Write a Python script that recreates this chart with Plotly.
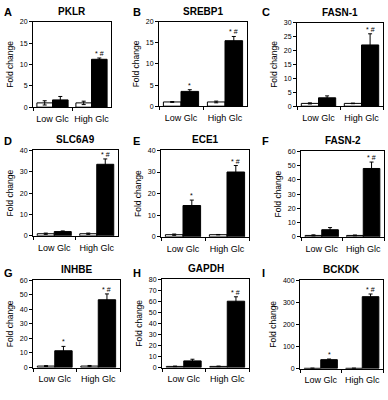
import plotly.graph_objects as go

# ---------------- data ----------------
genes = ["PKLR", "SREBP1", "FASN-1", "SLC6A9", "ECE1", "FASN-2", "INHBE", "GAPDH", "BCKDK"]
panel_letters = ["A", "B", "C", "D", "E", "F", "G", "H", "I"]
groups = ["Low Glc", "High Glc"]

white_vals = [[1, 1], [1, 1], [1, 1], [1, 1], [1, 1], [1, 1], [1, 1], [1, 1], [1, 1]]
white_err = [[0.5, 0.4], [0.1, 0.2], [0.2, 0.1], [0.3, 0.3], [0.3, 0.1], [0.4, 0.3], [0.3, 0.4], [0.3, 0.3], [1, 1]]
black_vals = [[1.7, 11.2], [3.5, 15.5], [3.0, 22.0], [2.0, 33.5], [14.5, 30.0], [5.0, 48.0], [11.5, 46.5], [6.0, 60.0], [40, 325]]
black_err = [[0.8, 0.3], [0.4, 1.0], [0.7, 4.0], [0.3, 2.5], [2.5, 3.0], [1.5, 4.5], [3.0, 4.0], [1.5, 4.0], [3, 12]]
marks = [["", "* #"], ["*", "* #"], ["", "* #"], ["", "* #"], ["*", "* #"],
         ["", "* #"], ["*", "* #"], ["", "* #"], ["*", "* #"]]
y_max = [20, 20, 30, 40, 40, 60, 60, 80, 400]
y_dtick = [5, 5, 5, 10, 10, 10, 10, 10, 100]

# ---------------- layout geometry (pixels) ----------------
W, H = 388, 400
rects = [  # x0, x1, y0(top), y1(bottom)
    (33, 111, 18, 105), (159, 247, 18, 104), (297, 383, 19, 104),
    (33, 118, 149, 236), (161, 249, 149, 237), (301, 384, 150, 237),
    (33, 120, 281, 370), (162, 249, 280, 370), (300, 383, 281, 371),
]
letter_pos = [(2, 0), (131, 0), (260, 0), (2, 131), (131, 131), (260, 131), (2, 266), (131, 266), (260, 266)]

FONT = "Arial, Liberation Sans, sans-serif"
bargap = 0.2

fig = go.Figure()
annotations = []
layout_axes = {}

for i in range(9):
    n = "" if i == 0 else str(i + 1)
    xa, ya = "x" + n, "y" + n
    x0, x1, yt, yb = rects[i]
    fig.add_trace(go.Bar(
        x=groups, y=white_vals[i], xaxis=xa, yaxis=ya, offsetgroup="w",
        marker=dict(color="white", line=dict(color="black", width=1)),
        error_y=dict(type="data", array=white_err[i], color="black", thickness=1, width=2),
        showlegend=False, hoverinfo="skip"))
    fig.add_trace(go.Bar(
        x=groups, y=black_vals[i], xaxis=xa, yaxis=ya, offsetgroup="b",
        marker=dict(color="black", line=dict(color="black", width=1)),
        error_y=dict(type="data", array=black_err[i], color="black", thickness=1, width=2),
        showlegend=False, hoverinfo="skip"))

    layout_axes["xaxis" + n] = dict(
        domain=[x0 / W, x1 / W], anchor=ya, type="category",
        showline=True, linecolor="black", linewidth=1, mirror=True,
        ticks="outside", tickson="boundaries", ticklen=3, tickcolor="black", tickangle=0,
        ticklabelstandoff=3,
        tickfont=dict(family=FONT, size=9, color="black"), showgrid=False, fixedrange=True)
    layout_axes["yaxis" + n] = dict(
        domain=[1 - yb / H, 1 - yt / H], anchor=xa, range=[0, y_max[i]], dtick=y_dtick[i],
        showline=True, linecolor="black", linewidth=1, mirror=True,
        ticks="outside", ticklen=3, tickcolor="black", showgrid=False, zeroline=False,
        tickfont=dict(family=FONT, size=7, color="black"),
        title=dict(text="Fold change", font=dict(family=FONT, size=8.5, color="black"), standoff=4),
        fixedrange=True)

    # gene title
    annotations.append(dict(
        text="<b>%s</b>" % genes[i], x=(x0 + x1) / 2 / W, y=1 - (yt - 3) / H,
        xref="paper", yref="paper", xanchor="center", yanchor="bottom", showarrow=False,
        font=dict(family=FONT, size=10, color="black")))
    # panel letter
    lx, ly = letter_pos[i]
    annotations.append(dict(
        text="<b>%s</b>" % panel_letters[i], x=lx / W, y=1 - ly / H,
        xref="paper", yref="paper", xanchor="left", yanchor="top", showarrow=False,
        font=dict(family=FONT, size=11, color="black")))
    # significance marks over black bars
    for g in range(2):
        if marks[i][g]:
            annotations.append(dict(
                text=marks[i][g], x=g + (1 - bargap) / 4, y=black_vals[i][g] + black_err[i][g],
                xref=xa, yref=ya, xanchor="center", yanchor="bottom", yshift=-1, showarrow=False,
                font=dict(family=FONT, size=7, color="black")))

fig.update_layout(
    width=W, height=H, margin=dict(l=0, r=0, t=0, b=0),
    paper_bgcolor="white", plot_bgcolor="white",
    barmode="group", bargap=bargap, bargroupgap=0,
    annotations=annotations, **layout_axes)

fig.write_html("out.html", config={"displayModeBar": False},
               post_script="document.body.style.margin='0';")
